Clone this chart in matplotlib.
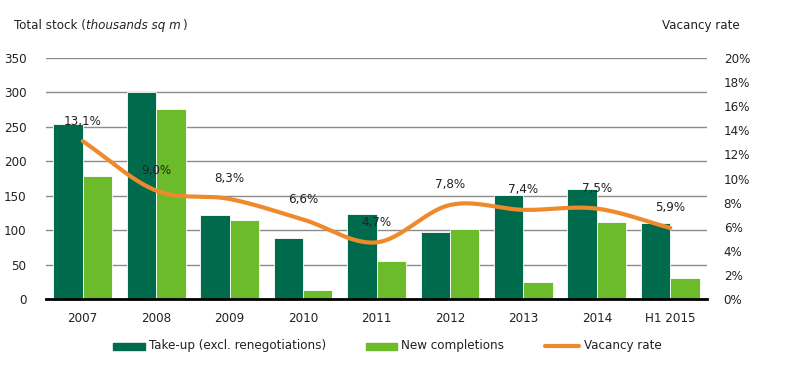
import numpy as np
import matplotlib
matplotlib.use("Agg")
import matplotlib.pyplot as plt
from matplotlib import font_manager as fm
from matplotlib.lines import Line2D
from matplotlib.patches import Rectangle

categories = ["2007", "2008", "2009", "2010", "2011", "2012", "2013", "2014", "H1 2015"]
take_up = [254, 301, 122, 89, 123, 98, 151, 160, 110]
new_completions = [179, 276, 115, 13, 55, 102, 25, 112, 30]
vacancy = [13.1, 9.0, 8.3, 6.6, 4.7, 7.8, 7.4, 7.5, 5.9]
vacancy_labels = ["13,1%", "9,0%", "8,3%", "6,6%", "4,7%", "7,8%", "7,4%", "7,5%", "5,9%"]
legend_labels = ["Take-up (excl. renegotiations)", "New completions", "Vacancy rate"]

DARK = "#006B4C"
LIGHT = "#6BBB2A"
ORANGE = "#EF8A2C"
TXT = "#222222"
names = {f.name for f in fm.fontManager.ttflist}
if "Liberation Sans Narrow" in names:
    plt.rcParams["font.family"] = ["Liberation Sans Narrow", "DejaVu Sans"]
    FS = 10.5
else:
    plt.rcParams["font.family"] = ["DejaVu Sans"]
    plt.rcParams["font.stretch"] = "condensed"
    FS = 9.5

fig = plt.figure(figsize=(7.91, 3.68), dpi=100)
W, H = 791, 368
ax = fig.add_axes([46/W, 1-299/H, 661/W, 241/H])
x = np.arange(len(categories))
w = 0.4
ax.bar(x - w/2, take_up, width=w, color=DARK, edgecolor="white", linewidth=0.6, zorder=2)
ax.bar(x + w/2, new_completions, width=w, color=LIGHT, edgecolor="white", linewidth=0.6, zorder=2)
ax.set_xlim(-0.5, len(categories) - 0.5)
ax.set_ylim(0, 350)
ax.set_yticks(np.arange(0, 351, 50))
ax.yaxis.grid(True, color="#8c8c8c", linewidth=1)
ax.set_axisbelow(True)
for s in ["top", "right", "left"]:
    ax.spines[s].set_visible(False)
ax.spines["bottom"].set_linewidth(2)
ax.spines["bottom"].set_color("black")
ax.spines["bottom"].set_zorder(5)
ax.set_xticks(x)
ax.set_xticklabels(categories)
ax.tick_params(axis="both", length=0, labelsize=FS, colors=TXT)
ax.tick_params(axis="y", pad=14)
ax.tick_params(axis="x", pad=9)

ax2 = ax.twinx()
ax2.set_ylim(0, 20)
ax2.set_yticks(np.arange(0, 21, 2))
ax2.set_yticklabels([f"{v}%" for v in range(0, 21, 2)])
ax2.tick_params(axis="y", length=0, labelsize=FS, pad=12, colors=TXT)
for s in ax2.spines.values():
    s.set_visible(False)

# smooth curve (Catmull-Rom) through vacancy points
px = x.astype(float)
py = np.array(vacancy, dtype=float)
P = np.column_stack([px, py])
Pe = np.vstack([2*P[0]-P[1], P, 2*P[-1]-P[-2]])
curve = []
for i in range(1, len(Pe) - 2):
    p0, p1, p2, p3 = Pe[i-1], Pe[i], Pe[i+1], Pe[i+2]
    t = np.linspace(0, 1, 30)[:, None]
    seg = 0.5 * ((2*p1) + (-p0 + p2)*t + (2*p0 - 5*p1 + 4*p2 - p3)*t**2 + (-p0 + 3*p1 - 3*p2 + p3)*t**3)
    curve.append(seg)
curve = np.vstack(curve)
ax2.plot(curve[:, 0], curve[:, 1], color=ORANGE, linewidth=3, solid_capstyle="round", zorder=3)
for xi, v, lab in zip(x, vacancy, vacancy_labels):
    ax2.annotate(lab, (xi, v), xytext=(0, 14.5), textcoords="offset points",
                 ha="center", va="center", fontsize=FS, color=TXT, zorder=4)

ty = 1 - 25/H
t1 = fig.text(14/W, ty, "Total stock (", fontsize=FS, va="center", ha="left", color=TXT)
fig.canvas.draw()
bb = t1.get_window_extent()
t2 = fig.text(bb.x1/W, ty, "thousands sq m", fontsize=FS, va="center", ha="left",
              style="italic", color=TXT)
fig.canvas.draw()
bb2 = t2.get_window_extent()
fig.text(bb2.x1/W + 1/W, ty, ")", fontsize=FS, va="center", ha="left", color=TXT)
fig.text(740/W, ty, "Vacancy rate", fontsize=FS, va="center", ha="right", color=TXT)

# legend drawn manually, centred like the reference
ly = 1 - 346/H
renderer = fig.canvas.get_renderer()
widths = []
for lab in legend_labels:
    tt = fig.text(0, 0, lab, fontsize=FS)
    widths.append(tt.get_window_extent(renderer).width)
    tt.remove()
key_w = [32, 31, 36]
total = sum(key_w) + 3*4 + sum(widths) + 2*40
xc = 387.5 - total/2
for i, (lab, kw, tw) in enumerate(zip(legend_labels, key_w, widths)):
    if i < 2:
        fig.add_artist(Rectangle((xc/W, ly - 3.5/H), kw/W, 7/H,
                                 color=[DARK, LIGHT][i], transform=fig.transFigure))
    else:
        fig.add_artist(Line2D([(xc+1)/W, (xc+kw-1)/W], [ly, ly], color=ORANGE, linewidth=3,
                              solid_capstyle="round", transform=fig.transFigure))
    fig.text((xc + kw + 4)/W, ly, lab, fontsize=FS, va="center", ha="left", color=TXT)
    xc += kw + 4 + tw + 40

fig.savefig("out.png", dpi=100)
